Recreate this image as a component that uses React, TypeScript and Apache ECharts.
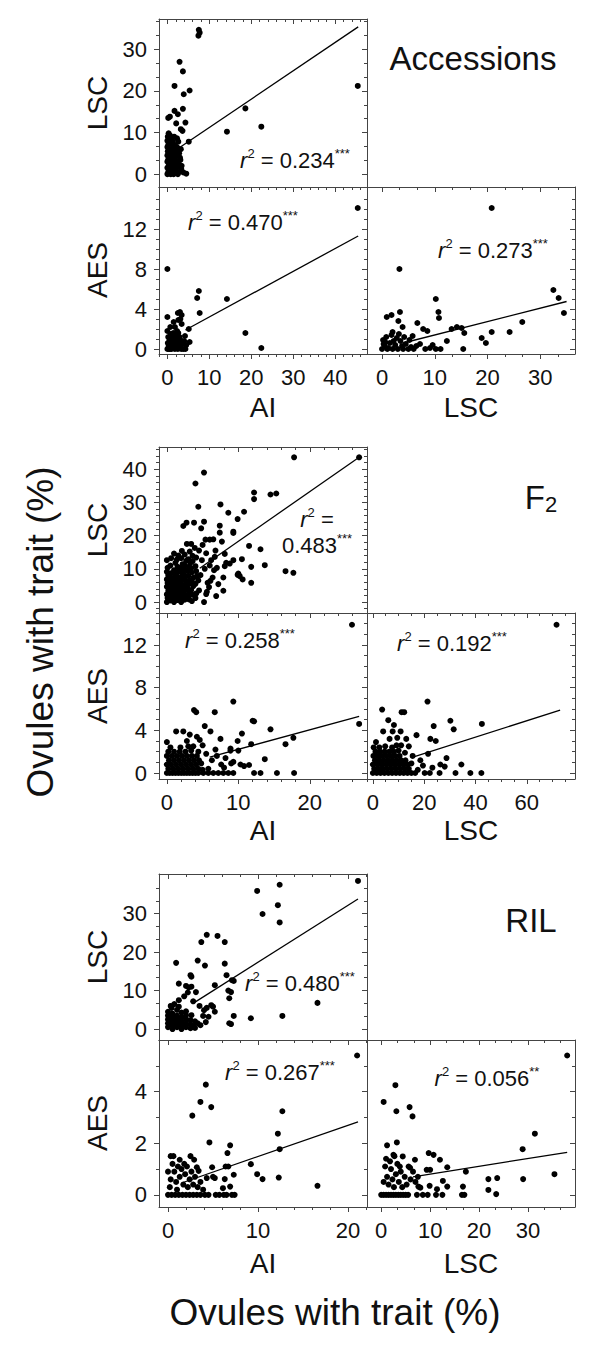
import React, { useEffect, useRef } from "react";
import * as echarts from "echarts";

// ---------------- DATA ----------------
// Accessions
const accLscAi = [
  [7.5, 34.7], [7.7, 34.0], [7.4, 33.3], [2.9, 27.0], [3.7, 24.7], [1.7, 21.2], [5.3, 20.1], [3.9, 19.2],
  [45.4, 21.2], [18.6, 15.8], [22.4, 11.4], [14.2, 10.2], [3.7, 15.7], [1.7, 15.2], [2.5, 14.4], [0.2, 13.5],
  [0.6, 13.8], [4.3, 12.4], [2.1, 12.2], [3.2, 10.8], [3.6, 10.4], [2.3, 8.6], [0.3, 9.8], [5.1, 7.8],
  [2.2, 6.5], [2.5, 5.3], [3.1, 3.4], [3.4, 2.0], [4.5, 0.1], [3.8, 0.4], [3.3, 1.2],
  [0, 0], [0.2, 0.5], [0.4, 1], [0, 1.5], [0.3, 2], [0.6, 2.5], [0, 3], [0.2, 3.5], [0.5, 4], [0, 4.5],
  [0.3, 5], [0.1, 5.5], [0.4, 6], [0, 6.5], [0.2, 7], [0.5, 7.5], [0, 8], [0.3, 8.5], [0.1, 9], [0.6, 9.3],
  [0.8, 0], [1, 0.6], [1.2, 1.2], [0.9, 1.8], [1.1, 2.4], [1.3, 3], [0.8, 3.6], [1, 4.2], [1.4, 4.8],
  [0.9, 5.4], [1.2, 6], [1.5, 6.6], [1, 7.2], [1.3, 7.8], [0.9, 8.4], [1.6, 9], [1.7, 0.3], [1.9, 0.9],
  [2.1, 1.5], [1.8, 2.1], [2.2, 2.7], [2, 3.3], [1.7, 3.9], [2.3, 4.5], [1.9, 5.1], [2.1, 5.7], [2.4, 6.3],
  [1.8, 7], [2.6, 7.8], [2.7, 0.5], [2.9, 1.8], [2.6, 2.8], [3, 4], [2.8, 5], [3.2, 6], [2.5, 0], [1.5, 0],
  [0.5, 0.2],
];
const accAesAi = [
  [45.4, 14.1], [0, 8], [7.5, 5.8], [7.1, 5.1], [14.2, 5], [7.7, 3.6], [2.5, 3.6], [3, 3.7], [3.4, 3.4],
  [0, 3.2], [18.6, 1.6], [22.4, 0.1], [5.1, 2], [2.6, 2.9], [1.5, 2.7], [0.7, 2.2], [1.8, 2.2], [2.3, 1.8],
  [3.4, 2.5], [3.1, 3], [4.2, 1.3], [5.3, 0.7], [4.5, 0.4],
  [0, 0], [0.3, 0.3], [0.6, 0], [0.1, 0.6], [0.5, 0.9], [0.2, 1.2], [0.8, 1.5], [0, 1.8], [1, 0], [1.2, 0.4],
  [1.5, 0.8], [1.1, 1.1], [1.4, 1.6], [1.8, 0], [2, 0.5], [2.2, 1], [1.9, 1.4], [2.5, 0], [2.7, 0.6],
  [2.9, 1.2], [3.3, 0], [3.5, 0.5], [3.1, 0.9], [3.8, 0], [4, 0.8], [4.3, 0], [0.4, 0], [1.6, 0.2],
  [2.4, 0.3], [3, 0.2], [0.9, 0.7], [2.6, 1.6],
];
const accAesLsc = [
  [20.8, 14.1], [3.3, 8], [10.2, 5], [10.7, 3.7], [10.8, 3.1], [0.9, 3.2], [1.8, 3.4], [3.4, 3.7], [3.1, 2.8],
  [3.9, 2.2], [2, 1.7], [6.7, 2.6], [7.8, 2], [8.6, 1.8], [32.5, 5.9], [33.5, 5.1], [34.5, 3.6], [26.6, 2.7],
  [24.2, 1.7], [20.8, 1.7], [18.9, 1.1], [19.7, 0.6], [13.2, 2], [14.2, 2.2], [15.1, 2.1], [15.6, 1.6],
  [15.4, 0], [12.3, 0.8], [11.1, 0], [10.2, 0], [9.1, 0.1], [8.2, 0], [9.6, 0.4], [5.8, 1.3], [7.2, 0.5],
  [6.5, 0.3],
  [0, 0], [0.5, 0.3], [1, 0], [1.5, 0.6], [0.2, 0.9], [0.8, 1.2], [2, 0], [2.5, 0.4], [3, 0], [3.5, 0.8],
  [2.8, 1.1], [4, 0], [4.5, 0.5], [5, 0], [5.5, 0.2], [1.2, 0.1], [2.2, 0.8], [3.8, 0.3], [0.3, 0.5],
  [4.2, 1.2], [1.8, 1.4], [3.2, 1.5], [5.2, 0.9], [6, 0], [0.6, 0.7],
];

// F2
const f2LscAi = [
  [26.9, 43.6], [17.8, 43.6], [5.2, 39], [4, 35.7], [4.4, 28.7], [12.2, 33], [12.2, 31], [14.5, 32.4],
  [15.3, 32.7], [7.5, 29.4], [8.6, 26.9], [10.8, 27.2], [9.9, 25], [2.3, 22.9], [2.75, 23.9], [3.8, 23.9],
  [5.2, 24.2], [4.8, 22.2], [7.4, 23], [7.4, 20.9], [9.3, 21.2], [9.3, 20.8], [5.4, 18.8], [6, 18.8],
  [6.5, 18.9], [7.7, 18.2], [2.8, 17.5], [3.4, 17.5], [11.5, 16.9], [13.1, 15.9], [13.7, 11.1], [11.8, 10.6],
  [16.6, 9.3], [17.7, 8.8], [10.5, 12.9], [9.3, 12.6], [8.8, 11.6], [8.3, 11.8], [8.1, 10.8], [6.7, 13.6],
  [6.2, 12.6], [10, 8.6], [10.2, 7.8], [9.9, 8.2], [10.6, 6.8], [11.8, 5.8], [5.7, 5.8], [6.4, 7.4],
  [7.2, 5.4], [7.9, 7.4], [6.9, 1.8], [7.9, 3.4], [5.2, 0], [5.5, 2.4], [5.6, 3.1], [3.1, 0.8],
  [4.5, 15.5], [5.5, 14.7], [3.6, 13.9], [4.9, 12.6], [6, 11], [5.3, 10], [4.1, 9.3], [6.6, 9.6], [3.9, 16.3],
  [4.7, 8.1], [6.1, 6.4], [3.3, 11.8], [4.4, 6.5], [5.9, 4.5], [4.5, 3.5], [3.7, 4.8], [6.8, 15.5], [7, 10.3],
  [8.1, 14.5], [5, 17.2],
  [0, 0], [0.1, 1.2], [0, 2.3], [0.2, 3.4], [0, 4.6], [0.1, 5.7], [0, 6.8], [0.2, 8], [0, 9.1], [0.1, 10.3],
  [0, 12.6], [0.5, 0.5], [0.6, 1.7], [0.4, 2.9], [0.5, 4.1], [0.7, 5.2], [0.5, 6.3], [0.4, 7.5], [0.6, 8.7],
  [0.5, 11], [0.6, 13.2], [1, 0], [1.1, 1.1], [0.9, 2.2], [1, 3.5], [1.2, 4.7], [1, 5.9], [0.9, 7.1],
  [1.1, 8.4], [1, 9.6], [1.2, 11.8], [1, 14.6], [1.5, 0.6], [1.6, 1.9], [1.4, 3], [1.5, 4.2], [1.6, 5.4],
  [1.5, 6.6], [1.4, 7.9], [1.6, 9.2], [1.5, 10.6], [1.4, 12.8], [1.6, 14], [2, 0], [2.1, 1.3], [1.9, 2.5],
  [2, 3.8], [2.2, 5], [2, 6.2], [1.9, 7.4], [2.1, 8.8], [2, 10.1], [2.2, 11.4], [2, 13.2], [2.1, 15.4],
  [2.5, 0.7], [2.6, 2], [2.4, 3.2], [2.5, 4.5], [2.7, 5.8], [2.5, 7], [2.4, 8.3], [2.6, 9.7], [2.5, 11],
  [2.7, 12.4], [2.5, 14.3], [3, 1.5], [3.1, 2.8], [2.9, 4], [3, 5.3], [3.2, 6.6], [3, 7.9], [2.9, 9.4],
  [3.1, 10.7], [3, 12.9], [3.2, 15.2], [3.5, 0.3], [3.6, 2.2], [3.4, 3.6], [3.5, 6], [3.7, 7.3], [3.5, 8.9],
  [3.4, 10.2], [3.6, 12.3], [4, 1.2], [4.1, 2.6], [4, 5.5], [4.2, 7.8], [4, 10.8], [4.1, 13.4],
];
const f2AesAi = [
  [25.9, 13.9], [26.9, 4.6], [9.3, 6.7], [3.8, 5.9], [4.1, 5.7], [6.7, 5.7], [5.3, 4.4], [6.1, 3.9], [12, 4.9],
  [12.2, 4.85], [14.5, 4.1], [17.7, 3.3], [16.6, 2.7], [10.5, 3.7], [9.9, 3], [11.8, 2.7], [13.7, 1.3],
  [10.3, 0.8], [10.8, 0.65], [11.5, 0.75], [9.3, 1.05], [8.9, 2.3], [8.9, 2.1], [10, 2.1], [7.5, 3.2],
  [3.2, 3.6], [4.2, 3.4], [2.8, 3], [3.7, 2.5], [0, 2.9], [1.3, 3.9], [2.3, 3.9],
  [5.1, 0], [5.8, 0], [6.5, 0], [7.2, 0], [7.9, 0], [8.6, 0], [9.3, 0], [12.2, 0], [13.1, 0], [15.4, 0], [17.8, 0],
  [6.3, 1.2], [7, 1.6], [7.6, 0.8], [8.2, 1.4], [6.8, 2.2], [5.5, 1.8], [5, 2.6], [4.6, 3.1], [8, 0.5],
  [9, 0.9], [5.8, 0.4],
  [0, 0], [0.4, 0], [0.8, 0], [1.2, 0], [1.6, 0], [2, 0], [2.4, 0], [2.8, 0], [3.2, 0], [3.6, 0], [4, 0], [4.4, 0],
  [0.2, 0.4], [0.9, 0.4], [1.6, 0.4], [2.3, 0.4], [3, 0.4], [3.7, 0.4], [4.4, 0.4], [5, 0.3],
  [0, 0.8], [0.6, 0.8], [1.3, 0.8], [2, 0.8], [2.7, 0.8], [3.4, 0.8], [4.1, 0.8], [4.8, 0.9],
  [0.3, 1.2], [1, 1.2], [1.7, 1.2], [2.4, 1.2], [3.1, 1.2], [3.8, 1.2], [4.5, 1.2],
  [0, 1.6], [0.7, 1.6], [1.4, 1.6], [2.1, 1.6], [2.8, 1.6], [3.5, 1.6], [4.2, 1.6],
  [0.2, 2], [1, 2], [1.8, 2], [2.6, 2], [3.4, 2.1], [4.4, 2], [0.5, 2.4], [1.9, 2.4], [3, 2.5],
];
const f2AesLsc = [
  [71.6, 13.9], [21.3, 6.7], [3.6, 5.95], [11.2, 5.7], [12.2, 5.7], [6, 4.95], [30.2, 4.9], [23.7, 4.4],
  [42.5, 4.6], [31.5, 4.1], [8.2, 4.5], [7.7, 3.9], [10.8, 3.9], [4, 3.9], [17, 3.55], [22.4, 3.2], [24.5, 3],
  [1.2, 2.9], [21.5, 1.8], [28.7, 1.4], [26.3, 0.8], [28, 0.6], [23.2, 0.5], [34.5, 0.8], [26, 0], [32.2, 0],
  [38, 0], [42.3, 0], [22.2, 0], [20.2, 0],
  [14, 2.5], [15.5, 1.6], [18.5, 1.2], [19.5, 0.7], [17.5, 0.3], [16.5, 0], [13, 3.2], [9.5, 3.3], [6.5, 3.2],
  [15, 0.9], [12.5, 1.9], [11, 2.6],
  [0, 0], [1.5, 0], [3, 0], [4.5, 0], [6, 0], [7.5, 0], [9, 0], [10.5, 0], [12, 0], [13.5, 0], [15, 0],
  [0.5, 0.4], [2.2, 0.4], [3.9, 0.4], [5.6, 0.4], [7.3, 0.4], [9, 0.4], [10.7, 0.4], [12.4, 0.4], [14, 0.4],
  [0, 0.8], [1.7, 0.8], [3.4, 0.8], [5.1, 0.8], [6.8, 0.8], [8.5, 0.8], [10.2, 0.8], [11.9, 0.8], [13.6, 0.8],
  [0.8, 1.2], [2.5, 1.2], [4.2, 1.2], [5.9, 1.2], [7.6, 1.2], [9.3, 1.2], [11, 1.2], [12.7, 1.2],
  [0.2, 1.6], [1.9, 1.6], [3.6, 1.6], [5.3, 1.6], [7, 1.6], [8.7, 1.6], [10.4, 1.6],
  [1, 2], [2.8, 2], [4.6, 2], [6.4, 2], [8.2, 2], [10, 2.1], [0.3, 2.4], [2.5, 2.4], [4.8, 2.5], [7.5, 2.4], [9.2, 2.6],
];

// RIL
const rilLscAi = [
  [21.1, 38.5], [12.4, 37.5], [9.9, 35.9], [10.5, 29.9], [12.2, 32.2], [12.4, 27.7], [16.6, 6.8], [12.7, 3.4],
  [9.2, 2.8], [7.3, 3.4], [6.8, 1.5], [7, 1.3], [4.3, 24.5], [5.5, 24.2], [3.7, 22.6], [6.3, 22.6],
  [3.3, 17.8], [0.9, 17.2], [4.1, 16.5], [6.3, 17], [6.5, 14], [7.1, 12.7], [7.3, 12.5], [2.6, 13.6],
  [2.5, 14], [1.2, 11.8], [2, 11.2], [2.3, 10.8], [2.6, 11], [5.2, 11.4], [6.7, 10], [7, 9.6], [6.8, 8],
  [3.1, 9.6], [4.8, 6.2], [5, 5.8], [5.2, 4.5], [4, 4.9], [4.5, 3.2], [3.9, 3.4], [3.3, 1.5], [3.6, 1],
  [0.4, 5.5], [0.7, 6.5], [1.2, 7.5], [1.8, 8.5], [2.2, 9.5], [2.8, 7.2], [3.5, 6], [4.3, 5.5], [2, 4.6],
  [4.2, 1.8], [2.6, 3.6],
  [0, 0.5], [0, 1.5], [0, 2.5], [0, 3.5], [0, 4.5], [0.5, 0], [0.5, 1], [0.5, 2], [0.5, 3], [0.5, 4],
  [1, 0.5], [1, 1.5], [1, 2.5], [1, 3.5], [1, 5], [1.5, 0], [1.5, 1], [1.5, 2], [1.5, 3], [1.5, 4.3],
  [2, 0.5], [2, 1.5], [2, 2.6], [2, 3.6], [2.5, 0.2], [2.5, 1.2], [2.5, 2.3], [2.8, 0.8], [3, 2], [3, 0.3],
  [1.2, 5.8], [0.3, 6],
];
const rilAesAi = [
  [21, 5.4], [4.2, 4.27], [3.6, 3.6], [4.8, 3.4], [2.7, 3.07], [12.7, 3.24], [12.2, 2.37], [12.4, 1.77],
  [4.6, 2.03], [6.9, 1.92], [6.6, 1.62], [6.7, 1.1], [6.4, 1.1], [4.9, 1.07], [9.2, 1.19], [9.9, 0.8],
  [10.5, 0.61], [12.3, 0.67], [16.6, 0.35], [7.3, 0.78], [6.3, 0.61], [6.9, 0.32], [6.1, 0.26], [5, 0.7],
  [5.2, 0.65], [4.3, 0.65], [0.3, 1.5], [0.6, 1.5], [1.3, 1.36], [2.5, 1.5], [2.9, 1.36], [3.2, 1.07],
  [3.4, 0.93],
  [0, 0], [0.4, 0], [0.8, 0], [1.2, 0], [1.6, 0], [2, 0], [2.4, 0], [2.8, 0], [3.2, 0], [3.6, 0], [4.1, 0],
  [4.5, 0], [5.3, 0], [5.7, 0], [6.2, 0], [6.5, 0], [7.1, 0], [7.4, 0],
  [0, 0.9], [0.3, 0.6], [0.2, 0.3], [0.7, 0.9], [0.9, 0.5], [1, 0.2], [1.3, 0.7], [1.5, 1], [1.7, 0.4],
  [1.9, 0.8], [2.1, 1.1], [2.2, 0.3], [2.4, 0.6], [2.6, 0.9], [2.8, 0.4], [3, 0.7], [3.3, 0.3], [0.5, 1.2],
  [1.1, 1.1], [1.8, 1.2], [3.6, 0.5], [3.9, 0.2],
];
const rilAesLsc = [
  [38, 5.4], [2.9, 4.25], [0.5, 3.6], [3.1, 3.24], [5.8, 3.4], [6.4, 3.04], [31.4, 2.37], [28.9, 1.77],
  [1.2, 1.92], [3.2, 2.03], [2.5, 1.55], [4.4, 1.49], [9.7, 1.62], [10.7, 1.55], [6.9, 1.36], [12, 1.36],
  [13.5, 1.07], [9.3, 0.97], [10, 0.97], [17.3, 0.9], [5.6, 1.1], [5.9, 1.05], [21.9, 0.61], [23.7, 0.65],
  [29, 0.61], [35.4, 0.8], [21.9, 0.19], [23.5, 0.03], [12.6, 0.54], [13.5, 0.32], [9.9, 0.35], [7.6, 0.32],
  [8, 0.28], [11.4, 0.22], [16.7, 0.32],
  [0, 0], [0.5, 0], [1, 0], [1.5, 0], [2, 0], [2.5, 0], [3, 0], [3.5, 0], [4, 0], [4.5, 0], [5, 0], [5.5, 0],
  [7.3, 0], [8.5, 0], [9.5, 0], [11.2, 0], [12.5, 0], [16.5, 0], [17, 0],
  [0.8, 1.1], [1.2, 0.7], [1.5, 0.4], [2, 1], [2.3, 0.6], [2.6, 0.3], [3, 0.8], [3.3, 1.2], [3.6, 0.5],
  [4, 0.9], [4.3, 0.3], [4.8, 0.7], [5.2, 0.4], [6, 0.6], [6.5, 0.9], [7, 0.5], [7.5, 0.7], [1.8, 1.3],
  [0.5, 0.5], [3.8, 1.1], [2.7, 1.5], [1, 1.4],
];

// Regression line end points
const accLscAiFit = [[3.1, 6.5], [45.5, 35.4]];
const accAesAiFit = [[4.3, 1.9], [45.5, 11.3]];
const accAesLscFit = [[4, 0.6], [35, 4.75]];
const f2LscAiFit = [[4.6, 10.2], [26.9, 43.6]];
const f2AesAiFit = [[6, 1.5], [26.9, 5.3]];
const f2AesLscFit = [[15.6, 1.5], [73, 5.9]];
const rilLscAiFit = [[3, 7], [21.1, 33.8]];
const rilAesAiFit = [[1.5, 0.46], [21.1, 2.83]];
const rilAesLscFit = [[6.5, 0.7], [38, 1.65]];

// r² texts
const r2Values = ["0.234", "0.470", "0.273", "0.483", "0.258", "0.192", "0.480", "0.267", "0.056"];
const r2Stars = ["***", "***", "***", "***", "***", "***", "***", "***", "**"];

// Tick labels
const accAiTicks = [0, 10, 20, 30, 40];
const accLscYTicks = [0, 10, 20, 30];
const accLscXTicks = [0, 10, 20, 30];
const aesTicks = [0, 4, 8, 12];
const f2AiTicks = [0, 10, 20];
const f2LscYTicks = [0, 10, 20, 30, 40];
const f2LscXTicks = [0, 20, 40, 60];
const rilAiTicks = [0, 10, 20];
const rilLscYTicks = [0, 10, 20, 30];
const rilLscXTicks = [0, 10, 20, 30];
const rilAesTicks = [0, 2, 4];

// ---------------- STYLE / LAYOUT ----------------
const FONT = "'Liberation Sans', Arial, Helvetica, sans-serif";
const AX = "#444";
const TXT = "#111";

type Spec = { min: number; max: number; majors: number[]; step: number; sub: number };

function minorValues(s: Spec) {
  const out: number[] = [];
  const st = s.step / s.sub;
  const a = Math.ceil(s.min / st - 1e-9);
  const b = Math.floor(s.max / st + 1e-9);
  for (let k = a; k <= b; k++) {
    if (k % s.sub !== 0) out.push(+(k * st).toFixed(6));
  }
  return out;
}

const X1: Spec = { min: -2, max: 47.6, majors: accAiTicks, step: 10, sub: 5 };
const Y1: Spec = { min: -3.1, max: 37.3, majors: accLscYTicks, step: 10, sub: 3 };
const Y2: Spec = { min: -0.5, max: 16.2, majors: aesTicks, step: 4, sub: 4 };
const X3: Spec = { min: -2.85, max: 36.6, majors: accLscXTicks, step: 10, sub: 3 };
const X4: Spec = { min: -1.1, max: 28, majors: f2AiTicks, step: 10, sub: 5 };
const Y4: Spec = { min: -3.3, max: 46.7, majors: f2LscYTicks, step: 10, sub: 5 };
const Y5: Spec = { min: -0.56, max: 15, majors: aesTicks, step: 4, sub: 4 };
const X6: Spec = { min: -2.3, max: 78.8, majors: f2LscXTicks, step: 20, sub: 4 };
const X7: Spec = { min: -1, max: 22.1, majors: rilAiTicks, step: 10, sub: 5 };
const Y7: Spec = { min: -2.85, max: 40.3, majors: rilLscYTicks, step: 10, sub: 3 };
const Y8: Spec = { min: -0.47, max: 6, majors: rilAesTicks, step: 2, sub: 2 };
const X9: Spec = { min: -2.9, max: 39.6, majors: rilLscXTicks, step: 10, sub: 3 };

type Panel = {
  box: [number, number, number, number];
  x: Spec;
  y: Spec;
  showX: boolean;
  showY: boolean;
  pts: number[][];
  fit: number[][];
};

const panels: Panel[] = [
  { box: [159, 19, 208, 168], x: X1, y: Y1, showX: false, showY: true, pts: accLscAi, fit: accLscAiFit },
  { box: [159, 187, 208, 167], x: X1, y: Y2, showX: true, showY: true, pts: accAesAi, fit: accAesAiFit },
  { box: [367, 187, 208, 167], x: X3, y: Y2, showX: true, showY: false, pts: accAesLsc, fit: accAesLscFit },
  { box: [159, 447, 208, 166], x: X4, y: Y4, showX: false, showY: true, pts: f2LscAi, fit: f2LscAiFit },
  { box: [159, 613, 208, 166], x: X4, y: Y5, showX: true, showY: true, pts: f2AesAi, fit: f2AesAiFit },
  { box: [367, 613, 208, 166], x: X6, y: Y5, showX: true, showY: false, pts: f2AesLsc, fit: f2AesLscFit },
  { box: [159, 874, 208, 166], x: X7, y: Y7, showX: false, showY: true, pts: rilLscAi, fit: rilLscAiFit },
  { box: [159, 1040, 208, 167], x: X7, y: Y8, showX: true, showY: true, pts: rilAesAi, fit: rilAesAiFit },
  { box: [367, 1040, 208, 167], x: X9, y: Y8, showX: true, showY: false, pts: rilAesLsc, fit: rilAesLscFit },
];

const r2Pos: number[][] = [
  [295, 160], [243, 222], [493, 250], [317, 532], [240, 640], [452, 643], [300, 983], [280, 1072], [487, 1078],
];

function makeAxes(dim: "x" | "y", gi: number, s: Spec, showLabels: boolean) {
  const minors = minorValues(s);
  const base: any = {
    gridIndex: gi, type: "value", min: s.min, max: s.max,
    splitLine: { show: false }, silent: true,
  };
  const line = { show: true, onZero: false, lineStyle: { color: AX, width: 1 } };
  const noLine = { show: false, onZero: false };
  const tick = (vals: number[], len: number, inside: boolean) => ({
    show: true, customValues: vals, length: len, inside, lineStyle: { color: AX, width: 1 },
  });
  const p1 = dim === "x" ? "bottom" : "left";
  const p2 = dim === "x" ? "top" : "right";
  return [
    {
      ...base, position: p1, axisLine: line, axisTick: tick(s.majors, 5, false),
      axisLabel: {
        show: showLabels, customValues: s.majors, margin: 12, fontSize: 22,
        color: TXT, fontFamily: FONT,
      },
    },
    { ...base, position: p1, axisLine: noLine, axisTick: tick(minors, 3, false), axisLabel: { show: false } },
    { ...base, position: p2, axisLine: line, axisTick: tick(s.majors, 5, true), axisLabel: { show: false } },
    { ...base, position: p2, axisLine: noLine, axisTick: tick(minors, 3, true), axisLabel: { show: false } },
  ];
}

function txt(x: number, y: number, text: string, size: number, rotate = 0, extra: any = {}) {
  return {
    type: "text", x, y, rotation: rotate, silent: true,
    style: {
      text, fontSize: size, fontFamily: FONT, fill: TXT, align: "center", verticalAlign: "middle", ...extra,
    },
  };
}

function r2Text(x: number, y: number, val: string, stars: string, twoLine = false) {
  const rich = {
    i: { fontSize: 22, fontStyle: "italic", fontFamily: FONT, fill: TXT, lineHeight: 26 },
    n: { fontSize: 22, fontFamily: FONT, fill: TXT, lineHeight: 26 },
    s: { fontSize: 13, fontFamily: FONT, fill: TXT, lineHeight: 14, verticalAlign: "top" },
  };
  const text = twoLine
    ? `{i|r}{s|2}{n| =}\n{n|${val}}{s|${stars}}`
    : `{i|r}{s|2}{n| = ${val}}{s|${stars}}`;
  return {
    type: "text", x, y, silent: true,
    style: { text, rich, align: "center", verticalAlign: "middle", fill: TXT, fontFamily: FONT },
  };
}

export default function App() {
  const ref = useRef<HTMLDivElement>(null);
  useEffect(() => {
    if (!ref.current) return;
    const chart = echarts.init(ref.current, null, { renderer: "svg" });
    const grid: any[] = [];
    const xAxis: any[] = [];
    const yAxis: any[] = [];
    const series: any[] = [];
    panels.forEach((p, i) => {
      grid.push({ left: p.box[0], top: p.box[1], width: p.box[2], height: p.box[3], containLabel: false });
      xAxis.push(...makeAxes("x", i, p.x, p.showX));
      yAxis.push(...makeAxes("y", i, p.y, p.showY));
      series.push({
        type: "scatter", xAxisIndex: i * 4, yAxisIndex: i * 4, data: p.pts,
        symbol: "circle", symbolSize: 6, itemStyle: { color: "#000", opacity: 1 }, silent: true, z: 2,
      });
      series.push({
        type: "line", xAxisIndex: i * 4, yAxisIndex: i * 4, data: p.fit, symbol: "none",
        lineStyle: { color: "#000", width: 1.3 }, silent: true, z: 3,
      });
    });

    const graphic: any[] = [
      txt(473, 58, "Accessions", 33),
      {
        type: "text", x: 541, y: 497, silent: true,
        style: {
          text: "{a|F}{b|2}", align: "center", verticalAlign: "middle",
          rich: {
            a: { fontSize: 33, fontFamily: FONT, fill: TXT, lineHeight: 36 },
            b: { fontSize: 22, fontFamily: FONT, fill: TXT, lineHeight: 22, verticalAlign: "bottom" },
          },
        },
      },
      txt(531, 920, "RIL", 33),
      // panel y titles
      txt(97, 103, "LSC", 28, Math.PI / 2),
      txt(97, 270, "AES", 28, Math.PI / 2),
      txt(97, 530, "LSC", 28, Math.PI / 2),
      txt(97, 696, "AES", 28, Math.PI / 2),
      txt(97, 957, "LSC", 28, Math.PI / 2),
      txt(97, 1123, "AES", 28, Math.PI / 2),
      // panel x titles
      txt(263, 407, "AI", 28),
      txt(471, 407, "LSC", 28),
      txt(263, 830, "AI", 28),
      txt(471, 830, "LSC", 28),
      txt(263, 1263, "AI", 28),
      txt(471, 1263, "LSC", 28),
      // overall titles
      txt(40, 632, "Ovules with trait (%)", 37, Math.PI / 2),
      txt(335, 1312, "Ovules with trait (%)", 37),
    ];
    r2Pos.forEach((pos, i) => {
      graphic.push(r2Text(pos[0], pos[1], r2Values[i], r2Stars[i], i === 3));
    });

    chart.setOption({
      animation: false,
      backgroundColor: "#fff",
      grid, xAxis, yAxis, series, graphic,
    });
    return () => chart.dispose();
  }, []);
  return (
    <div
      ref={ref}
      style={{ position: "absolute", left: 0, top: 0, width: 600, height: 1347, background: "#fff" }}
    />
  );
}
